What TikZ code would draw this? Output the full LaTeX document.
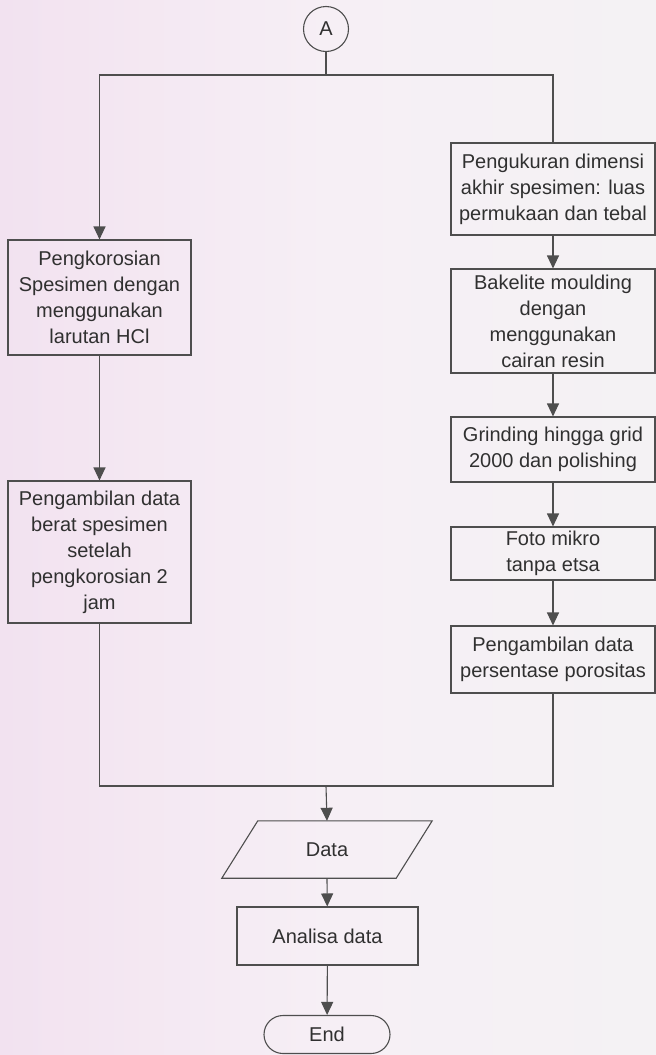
\documentclass[tikz,border=0pt]{standalone}
\usepackage{fontspec}
\setmainfont{Liberation Sans}
\usetikzlibrary{arrows.meta,shapes.misc,calc}
\definecolor{bgleft}{RGB}{242,226,240}
\definecolor{bgmid}{RGB}{246,239,245}
\definecolor{bgright}{RGB}{244,242,244}
\definecolor{ink}{RGB}{78,78,78}
\definecolor{txt}{RGB}{48,48,48}
\begin{document}
\begin{tikzpicture}[x=1pt,y=-1pt,
  box/.style={draw=ink, line width=1.1pt, rectangle, inner sep=0pt, align=center, text=txt, font=\fontsize{20}{26}\selectfont},
  flow/.style={draw=ink, line width=1.1pt, -{Triangle[length=13pt,width=12pt]}},
  link/.style={draw=ink, line width=1.1pt},
]
\useasboundingbox (0,0) rectangle (656,1055);
\shade[left color=bgleft, right color=bgright, middle color=bgmid] (0,0) rectangle (656,1055);

\node[draw=ink, line width=1.1pt, circle, minimum size=45pt, inner sep=0pt, text=txt, font=\fontsize{20}{24}\selectfont] (A) at (326,29) {A};

\node[box, minimum width=183pt, minimum height=115pt] (L1) at (99.5,297.5) {Pengkorosian\\Spesimen dengan\\menggunakan\\larutan HCl};
\node[box, minimum width=183pt, minimum height=142pt] (L2) at (99.5,552) {Pengambilan data\\berat spesimen\\setelah\\pengkorosian 2\\jam};

\node[box, minimum width=204pt, minimum height=92pt] (R1) at (553,189) {Pengukuran dimensi\\akhir spesimen: luas\\permukaan dan tebal};
\node[box, minimum width=204pt, minimum height=104pt] (R2) at (553,321) {Bakelite moulding\\dengan\\menggunakan\\cairan resin};
\node[box, minimum width=204pt, minimum height=65pt] (R3) at (553,449.5) {Grinding hingga grid\\2000 dan polishing};
\node[box, minimum width=204pt, minimum height=53pt] (R4) at (553,553.5) {Foto mikro\\tanpa etsa};
\node[box, minimum width=204pt, minimum height=67pt] (R5) at (553,659.5) {Pengambilan data\\persentase porositas};

\node[inner sep=0pt, minimum width=138pt, minimum height=57pt, text=txt, font=\fontsize{20}{24}\selectfont] (data) at (327,849.5) {Data};
\draw[link] ($(data.south west)+(-36,0)$) -- (data.south east) -- ($(data.north east)+(36,0)$) -- (data.north west) -- cycle;

\node[box, minimum width=181pt, minimum height=58pt] (ana) at (327.5,936) {Analisa data};
\node[draw=ink, line width=1.1pt, rounded rectangle, inner sep=0pt, minimum width=126pt, minimum height=38pt, text=txt, font=\fontsize{20}{24}\selectfont] (end) at (327,1034.5) {End};

\coordinate (top) at (326,75);
\coordinate (bot) at (326,786);
\draw[link] (A.south) -- (top);
\draw[flow] (top) -| (L1.north);
\draw[link] (top) -| (R1.north);
\draw[flow] (L1) -- (L2);
\draw[flow] (R1) -- (R2);
\draw[flow] (R2) -- (R3);
\draw[flow] (R3) -- (R4);
\draw[flow] (R4) -- (R5);
\draw[link] (L2.south) |- (bot);
\draw[link] (R5.south) |- (bot);
\draw[flow] (bot) -- (data.north);
\draw[flow] (data.south) -- (ana);
\draw[flow] (ana) -- (end);
\end{tikzpicture}
\end{document}
